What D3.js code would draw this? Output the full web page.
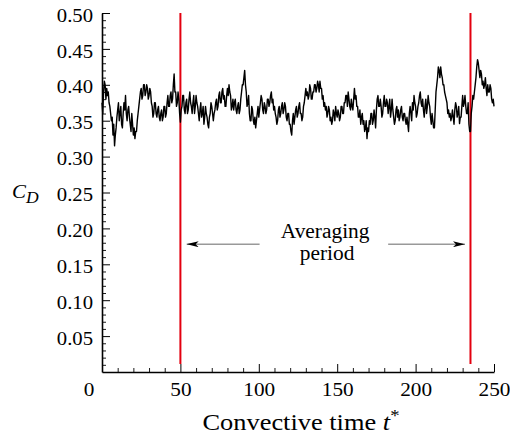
<!DOCTYPE html>
<meta charset="utf-8">
<script src="https://d3js.org/d3.v7.min.js"></script>
<style>
  body { margin: 0; background: #fff; }
  text { font-family: 'Liberation Serif', 'Times New Roman', serif; fill: #000; }
</style>
<body>
<div id="chart"></div>
<script>

// drag coefficient sampled every half convective time unit (t* = 0 .. 250)
var cd = [
  0.375, 0.36, 0.39, 0.405, 0.40, 0.38, 0.395, 0.385, 0.39, 0.375, 0.37, 0.36, 0.35, 0.355, 0.33, 0.345, 0.315, 0.33, 0.34, 0.355,
  0.365, 0.375, 0.35, 0.36, 0.37, 0.345, 0.34, 0.36, 0.375, 0.365, 0.385, 0.36, 0.35, 0.365, 0.37, 0.355, 0.345, 0.335, 0.36, 0.345,
  0.33, 0.34, 0.325, 0.335, 0.335, 0.35, 0.36, 0.37, 0.38, 0.39, 0.395, 0.38, 0.385, 0.40, 0.40, 0.385, 0.39, 0.40, 0.395, 0.38,
  0.385, 0.395, 0.39, 0.375, 0.37, 0.355, 0.36, 0.375, 0.375, 0.36, 0.355, 0.365, 0.37, 0.355, 0.35, 0.36, 0.365, 0.35, 0.355, 0.37,
  0.37, 0.355, 0.36, 0.375, 0.385, 0.37, 0.37, 0.385, 0.39, 0.375, 0.38, 0.40, 0.415, 0.39, 0.39, 0.37, 0.375, 0.39, 0.38, 0.36,
  0.348, 0.365, 0.37, 0.385, 0.385, 0.365, 0.36, 0.375, 0.38, 0.36, 0.365, 0.38, 0.39, 0.375, 0.37, 0.36, 0.375, 0.385, 0.36, 0.37,
  0.385, 0.375, 0.37, 0.36, 0.35, 0.365, 0.375, 0.355, 0.36, 0.37, 0.345, 0.355, 0.37, 0.36, 0.355, 0.345, 0.34, 0.355, 0.36, 0.375,
  0.37, 0.36, 0.35, 0.36, 0.365, 0.375, 0.38, 0.365, 0.37, 0.385, 0.39, 0.375, 0.375, 0.39, 0.395, 0.38, 0.385, 0.37, 0.37, 0.385,
  0.395, 0.385, 0.40, 0.39, 0.385, 0.365, 0.37, 0.38, 0.365, 0.375, 0.38, 0.365, 0.36, 0.37, 0.375, 0.36, 0.365, 0.38, 0.39, 0.40,
  0.40, 0.41, 0.42, 0.40, 0.39, 0.37, 0.375, 0.385, 0.36, 0.35, 0.35, 0.37, 0.365, 0.35, 0.345, 0.355, 0.34, 0.35, 0.36, 0.37,
  0.355, 0.365, 0.375, 0.385, 0.38, 0.365, 0.36, 0.375, 0.37, 0.36, 0.365, 0.38, 0.38, 0.37, 0.375, 0.385, 0.39, 0.375, 0.38, 0.365,
  0.37, 0.36, 0.355, 0.345, 0.35, 0.365, 0.37, 0.355, 0.36, 0.37, 0.375, 0.36, 0.365, 0.375, 0.37, 0.355, 0.35, 0.36, 0.36, 0.345,
  0.345, 0.335, 0.33, 0.35, 0.36, 0.345, 0.355, 0.365, 0.37, 0.355, 0.36, 0.37, 0.375, 0.36, 0.36, 0.35, 0.355, 0.37, 0.375, 0.385,
  0.395, 0.385, 0.39, 0.38, 0.385, 0.40, 0.395, 0.38, 0.38, 0.39, 0.39, 0.40, 0.40, 0.39, 0.395, 0.405, 0.40, 0.39, 0.405, 0.395,
  0.395, 0.38, 0.385, 0.37, 0.375, 0.365, 0.37, 0.355, 0.36, 0.37, 0.365, 0.35, 0.355, 0.345, 0.35, 0.365, 0.36, 0.35, 0.37, 0.36,
  0.355, 0.365, 0.36, 0.35, 0.355, 0.37, 0.37, 0.36, 0.36, 0.375, 0.375, 0.385, 0.385, 0.37, 0.39, 0.38, 0.37, 0.365, 0.38, 0.37,
  0.365, 0.38, 0.395, 0.38, 0.385, 0.37, 0.37, 0.355, 0.355, 0.365, 0.345, 0.355, 0.36, 0.345, 0.35, 0.335, 0.34, 0.35, 0.325, 0.34,
  0.335, 0.35, 0.345, 0.36, 0.36, 0.345, 0.35, 0.365, 0.355, 0.34, 0.365, 0.38, 0.385, 0.37, 0.37, 0.38, 0.37, 0.355, 0.36, 0.375,
  0.385, 0.37, 0.37, 0.38, 0.375, 0.36, 0.37, 0.38, 0.355, 0.365, 0.38, 0.365, 0.355, 0.345, 0.35, 0.365, 0.37, 0.355, 0.365, 0.35,
  0.355, 0.365, 0.37, 0.355, 0.35, 0.36, 0.36, 0.35, 0.345, 0.355, 0.345, 0.335, 0.36, 0.37, 0.36, 0.35, 0.375, 0.365, 0.385, 0.375,
  0.37, 0.355, 0.36, 0.37, 0.375, 0.385, 0.39, 0.375, 0.37, 0.38, 0.365, 0.355, 0.37, 0.38, 0.36, 0.37, 0.385, 0.375, 0.37, 0.355,
  0.345, 0.36, 0.35, 0.34, 0.34, 0.365, 0.39, 0.40, 0.41, 0.425, 0.42, 0.41, 0.425, 0.415, 0.41, 0.40, 0.40, 0.39, 0.385, 0.38,
  0.375, 0.36, 0.365, 0.355, 0.36, 0.35, 0.355, 0.365, 0.355, 0.345, 0.365, 0.375, 0.37, 0.355, 0.36, 0.37, 0.346, 0.355, 0.355, 0.37,
  0.385, 0.37, 0.375, 0.385, 0.37, 0.36, 0.36, 0.375, 0.345, 0.335, 0.335, 0.36, 0.37, 0.385, 0.38, 0.39, 0.40, 0.41, 0.425, 0.435,
  0.43, 0.42, 0.41, 0.42, 0.415, 0.40, 0.405, 0.395, 0.40, 0.41, 0.395, 0.385, 0.40, 0.39, 0.39, 0.40, 0.395, 0.38, 0.375, 0.38,
  0.37
];
var tStep = 0.5;

var xTicks = [0, 50, 100, 150, 200, 250];
var yTicks = [0.05, 0.10, 0.15, 0.20, 0.25, 0.30, 0.35, 0.40, 0.45, 0.50];

// averaging window and its annotation
var avgBounds = [50, 235];
var arrowLeft = [54, 100.5];
var arrowRight = [182.5, 231.5];
var arrowLevel = 0.178;
var noteLines = ["Averaging", "period"];

var width = 510, height = 436;
var stretch = 1.12;

var svg = d3.select("#chart")
  .append("svg")
    .attr("width", width)
    .attr("height", height);

var x = d3.scaleLinear().domain([0, 250]).range([102, 494]);
var y = d3.scaleLinear().domain([0, 0.5]).range([372, 13]);

// minor ticks first
svg.append("g")
    .attr("transform", "translate(" + x(0) + ",0)")
    .call(d3.axisLeft(y).tickValues(d3.range(1, 50).filter(function(d) { return d % 5; }).map(function(d) { return d / 100; }))
      .tickSize(-4).tickFormat(""))
    .call(function(g) { g.select(".domain").remove(); })
    .selectAll("line").attr("stroke-width", 0.9);

svg.append("g")
    .attr("transform", "translate(0," + y(0) + ")")
    .call(d3.axisBottom(x).tickValues(d3.range(10, 250, 10).filter(function(d) { return d % 50; }))
      .tickSize(-4).tickFormat(""))
    .call(function(g) { g.select(".domain").remove(); })
    .selectAll("line").attr("stroke-width", 0.9);

// major axes
var yAxis = svg.append("g")
    .attr("transform", "translate(" + x(0) + ",0)")
    .call(d3.axisLeft(y).tickValues(yTicks).tickSizeInner(-8).tickSizeOuter(0)
      .tickPadding(8).tickFormat(d3.format(".2f")));
yAxis.selectAll("text")
    .attr("dy", "0.44em")
    .style("font-size", "18.5px")
    .attr("transform", "scale(" + stretch + ",1)");

var xAxis = svg.append("g")
    .attr("transform", "translate(0," + y(0) + ")")
    .call(d3.axisBottom(x).tickValues(xTicks).tickSizeInner(-8).tickSizeOuter(0)
      .tickPadding(10.5));
xAxis.selectAll("text")
    .style("font-size", "19px")
    .attr("transform", "scale(" + stretch + ",1)");
xAxis.selectAll("text").filter(function(d) { return d === 0; })
    .attr("x", -13.5 / stretch);

svg.selectAll(".domain").attr("stroke-width", 1.6);
svg.selectAll(".tick line").attr("stroke", "#000");

// red lines bounding the averaging window
svg.selectAll("line.bound")
  .data(avgBounds)
  .enter()
  .append("line")
    .attr("class", "bound")
    .attr("x1", function(d) { return x(d); })
    .attr("x2", function(d) { return x(d); })
    .attr("y1", y(0.5))
    .attr("y2", y(0.011))
    .attr("stroke", "#e3000f")
    .attr("stroke-width", 2);

// drag signal
var line = d3.line()
  .x(function(d, i) { return x(i * tStep); })
  .y(function(d) { return y(d); });

svg.append("path")
    .datum(cd)
    .attr("d", line)
    .attr("fill", "none")
    .attr("stroke", "#000")
    .attr("stroke-width", 1.4)
    .attr("stroke-linejoin", "round");

// arrows
var defs = svg.append("defs");
defs.append("marker")
    .attr("id", "head")
    .attr("viewBox", "0 0 12 6")
    .attr("refX", 12)
    .attr("refY", 3)
    .attr("markerWidth", 12)
    .attr("markerHeight", 6)
    .attr("markerUnits", "userSpaceOnUse")
    .attr("orient", "auto")
  .append("path")
    .attr("d", "M0,0 L12,3 L0,6 L3,3 Z")
    .attr("fill", "#000");

svg.append("line")
    .attr("x1", x(arrowLeft[1])).attr("x2", x(arrowLeft[0]))
    .attr("y1", y(arrowLevel)).attr("y2", y(arrowLevel))
    .attr("stroke", "#999").attr("stroke-width", 1.5)
    .attr("marker-end", "url(#head)");

svg.append("line")
    .attr("x1", x(arrowRight[0])).attr("x2", x(arrowRight[1]))
    .attr("y1", y(arrowLevel)).attr("y2", y(arrowLevel))
    .attr("stroke", "#999").attr("stroke-width", 1.5)
    .attr("marker-end", "url(#head)");

svg.selectAll("text.note")
  .data(noteLines)
  .enter()
  .append("text")
    .attr("class", "note")
    .attr("text-anchor", "middle")
    .attr("transform", function(d, i) {
      return "translate(" + (x(142.3) + i * 2) + "," + (238 + i * 22) + ") scale(1.07,1)";
    })
    .style("font-size", "20px")
    .text(function(d) { return d; });

// axis titles
var xt = svg.append("text")
    .attr("text-anchor", "middle")
    .attr("transform", "translate(301,430) scale(1.1,1)")
    .style("font-size", "24px");
xt.append("tspan").text("Convective time ");
xt.append("tspan").style("font-style", "italic").text("t");
xt.append("tspan").attr("dy", -9).style("font-size", "17px").text("*");

var yt = svg.append("text")
    .attr("transform", "translate(12,197.5) scale(1.1,1)")
    .style("font-size", "19px")
    .style("font-style", "italic");
yt.append("tspan").text("C");
yt.append("tspan").attr("dy", 5.5).style("font-size", "16px").text("D");

</script>
</body>
